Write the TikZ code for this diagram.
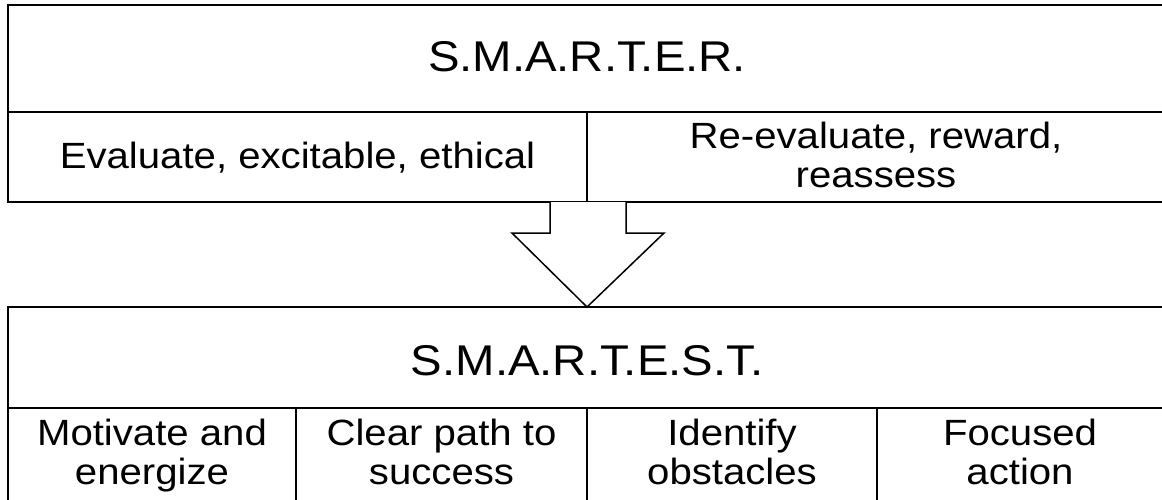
\documentclass[tikz,border=0pt]{standalone}
\usepackage{fontspec}
\setmainfont[FakeStretch=1.1]{Liberation Sans}
\begin{document}
\begin{tikzpicture}[x=1pt,y=-1pt,
  box/.style={draw=black, line width=1.5pt},
  ttl/.style={font=\fontsize{43}{48}\selectfont, anchor=base, inner sep=0pt},
  txt/.style={font=\fontsize{36.5}{39}\selectfont, align=center, anchor=base, inner sep=0pt}]
\useasboundingbox (0,0) rectangle (1162,499);
\clip (0,0) rectangle (1162,499);
% top table
\draw[box] (8,5) rectangle (1180,202);
\draw[box] (8,112) -- (1180,112);
\draw[box] (587,112) -- (587,202);
% arrow
\draw[box, fill=white, line join=miter] (550,202) -- (550,233) -- (512,233) -- (587,307) -- (664,233) -- (626,233) -- (626,202);
% bottom table
\draw[box] (8,307) rectangle (1180,520);
\draw[box] (8,408) -- (1180,408);
\draw[box] (296,408) -- (296,520);
\draw[box] (587,408) -- (587,520);
\draw[box] (877,408) -- (877,520);
% texts
\node[ttl] (t1) at (587,71) {S.M.A.R.T.E.R.};
\node[txt] (a1) at (297.5,168) {Evaluate, excitable, ethical};
\node[txt] (a2) at (876,187) {Re-evaluate, reward,\\reassess};
\node[ttl] (t2) at (587,375) {S.M.A.R.T.E.S.T.};
\node[txt] (b1) at (152,484) {Motivate and\\energize};
\node[txt] (b2) at (441.5,484) {Clear path to\\success};
\node[txt] (b3) at (732,484) {Identify\\obstacles};
\node[txt] (b4) at (1020,484) {Focused\\action};
\end{tikzpicture}
\end{document}
